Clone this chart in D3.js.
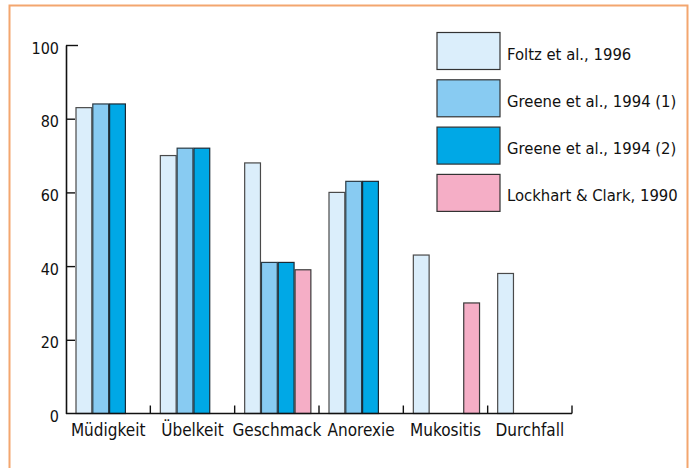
<!DOCTYPE html>
<html>
<head>
<meta charset="utf-8">
<script src="https://cdn.jsdelivr.net/npm/d3@7"></script>
<style>
  body { margin: 0; background: #fff; }
  svg text { font-family: "Liberation Sans Narrow", "DejaVu Sans Condensed", "Roboto", sans-serif; fill: #111; }
</style>
</head>
<body>
<div id="mount"></div>
<script>
'use strict';

// categories, series and values (null = no bar)
const categories = ['Müdigkeit', 'Übelkeit', 'Geschmack', 'Anorexie', 'Mukositis', 'Durchfall'];
const series = ['Foltz et al., 1996', 'Greene et al., 1994 (1)', 'Greene et al., 1994 (2)', 'Lockhart & Clark, 1990'];
const foltz     = [83, 70, 68, 60, 43, 38];
const greene1   = [84, 72, 41, 63, null, null];
const greene2   = [84, 72, 41, 63, null, null];
const lockhart  = [null, null, 39, null, 30, null];
const yTicks = [0, 20, 40, 60, 80, 100];

const colors = ['#dbeefb', '#88cbf2', '#00a8e6', '#f5aec6'];
const strokes = ['#4a4a4a', '#2a3a44', '#1a2a36', '#3a3a3a'];

const width = 689, height = 468;

const svg = d3.select('#mount').append('svg')
    .attr('width', width)
    .attr('height', height);

// orange frame (top, left, right)
svg.append('path')
    .attr('d', 'M9.5,468 V5.5 H687.5 V468')
    .attr('fill', 'none')
    .attr('stroke', '#f3a66f')
    .attr('stroke-width', 2);

const x0 = d3.scaleBand()
    .domain(categories)
    .range([66, 572]);

const x1 = d3.scaleBand()
    .domain(series)
    .range([9.5, 9.5 + 67.2]);

const y = d3.scaleLinear()
    .domain([0, 100])
    .range([413.5, 45]);

// flatten into bar records
const values = [foltz, greene1, greene2, lockhart];
const bars = [];
categories.forEach((c, ci) => {
  series.forEach((s, si) => {
    const v = values[si][ci];
    if (v != null) bars.push({ cat: c, series: s, si: si, value: v });
  });
});

svg.append('g')
  .selectAll('rect')
    .data(bars)
  .enter().append('rect')
    .attr('x', d => x0(d.cat) + x1(d.series) + 0.5)
    .attr('y', d => y(d.value))
    .attr('width', x1.bandwidth() - 1)
    .attr('height', d => y(0) - y(d.value))
    .attr('fill', d => colors[d.si])
    .attr('stroke', d => strokes[d.si])
    .attr('stroke-width', 1.2);

// y axis
const yAxis = svg.append('g')
    .attr('transform', 'translate(66,0)')
    .call(d3.axisLeft(y).tickValues(yTicks).tickSizeInner(-9).tickSizeOuter(0).tickPadding(7))
    .call(g => g.select('.domain').attr('stroke', '#111').attr('stroke-width', 1.6))
    .call(g => g.selectAll('.tick line').attr('stroke', '#111').attr('stroke-width', 1.4))
    .call(g => g.selectAll('.tick text').attr('font-size', 16).attr('dy', '0.5em').style('font-family', null));

yAxis.selectAll('.tick').filter(d => d === 100).select('line').attr('x2', 12);
yAxis.selectAll('.tick').filter(d => d === 0).select('line').remove();

// x axis: baseline with upward ticks at category boundaries
const xAxis = svg.append('g')
    .attr('transform', `translate(0,${y(0)})`);

xAxis.append('line')
    .attr('x1', 66)
    .attr('x2', 572)
    .attr('stroke', '#111')
    .attr('stroke-width', 1.6);

xAxis.selectAll('.sep')
    .data(categories)
  .enter().append('line')
    .attr('class', 'sep')
    .attr('x1', d => x0(d) + x0.bandwidth())
    .attr('x2', d => x0(d) + x0.bandwidth())
    .attr('y1', 0)
    .attr('y2', -8)
    .attr('stroke', '#111')
    .attr('stroke-width', 1.4);

xAxis.selectAll('.cat')
    .data(categories)
  .enter().append('text')
    .attr('class', 'cat')
    .attr('x', d => x0(d) + x0.bandwidth() / 2)
    .attr('y', 22)
    .attr('text-anchor', 'middle')
    .attr('font-size', 17)
    .text(d => d);

// legend
const legend = svg.append('g')
    .attr('transform', 'translate(437,32.5)');

const item = legend.selectAll('g')
    .data(series)
  .enter().append('g')
    .attr('transform', (d, i) => `translate(0,${i * 47.3})`);

item.append('rect')
    .attr('width', 63)
    .attr('height', 37)
    .attr('fill', (d, i) => colors[i])
    .attr('stroke', '#333')
    .attr('stroke-width', 1.2);

item.append('text')
    .attr('x', 70)
    .attr('y', 27)
    .attr('font-size', 16.5)
    .text(d => d);
</script>
</body>
</html>
